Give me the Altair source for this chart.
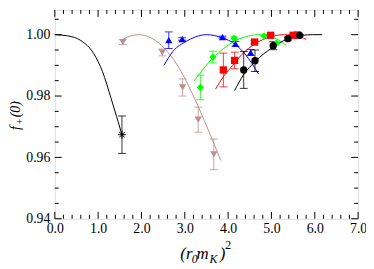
import altair as alt
import pandas as pd

# ---------------- data ----------------
# black asterisk (single point) and its curve
star_x = [1.55]
star_y = [0.9674]
star_e = [0.0061]
star_cx = [0.0, 0.3, 0.6, 0.9, 1.1, 1.3, 1.55]
star_cy = [1.0000, 0.9996, 0.9981, 0.9938, 0.9880, 0.9792, 0.9674]

# rosy-brown down triangles
brown_x = [1.57, 2.48, 2.95, 3.31, 3.67]
brown_y = [0.9976, 0.9942, 0.9828, 0.9723, 0.9610]
brown_e = [0.0008, 0.0011, 0.0028, 0.0041, 0.0050]
brown_cx = [1.55, 1.75, 1.93, 2.2, 2.46, 2.84, 3.14, 3.45, 3.83]
brown_cy = [0.9983, 0.9996, 1.0000, 0.9991, 0.9965, 0.9898, 0.9818, 0.9720, 0.9590]

# blue up triangles
blue_x = [2.63, 2.94, 3.87, 4.17, 4.52]
blue_y = [0.9982, 0.9986, 0.9992, 0.9970, 0.9942]
blue_e = [0.0027, 0.0004, 0.0003, 0.0008, 0.0010]
blue_cx = [2.52, 2.73, 3.03, 3.25, 3.5, 3.86, 4.17, 4.39, 4.70]
blue_cy = [0.9900, 0.9946, 0.9978, 0.9993, 1.0000, 0.9990, 0.9968, 0.9937, 0.9872]

# green diamonds
green_x = [3.36, 3.65, 4.14, 4.83, 5.11]
green_y = [0.9828, 0.9927, 0.9988, 0.9996, 0.9972]
green_e = [0.0040, 0.0019, 0.0005, 0.0003, 0.0005]
green_cx = [3.22, 3.45, 3.65, 3.9, 4.1, 4.4, 4.7, 5.0, 5.34]
green_cy = [0.9850, 0.9892, 0.9925, 0.9955, 0.9975, 0.9993, 1.0000, 0.9993, 0.9966]

# red squares
red_x = [3.89, 4.15, 4.61, 4.98, 5.50, 5.60]
red_y = [0.9885, 0.9916, 0.9976, 0.9998, 0.9998, 0.9999]
red_e = [0.0055, 0.0027, 0.0006, 0.0004, 0.0003, 0.0003]
red_cx = [3.71, 3.9, 4.1, 4.32, 4.62, 5.0, 5.3, 5.55, 5.80]
red_cy = [0.9823, 0.9865, 0.9899, 0.9936, 0.9970, 0.9994, 1.0000, 0.9997, 0.9985]

# black circles
black_x = [4.36, 4.62, 5.04, 5.38, 5.65]
black_y = [0.9885, 0.9915, 0.9964, 0.9987, 0.9998]
black_e = [0.0060, 0.0035, 0.0013, 0.0005, 0.0003]
black_cx = [4.15, 4.36, 4.62, 5.0, 5.38, 5.72, 5.95, 6.17]
black_cy = [0.9818, 0.9870, 0.9912, 0.9956, 0.9987, 0.9998, 1.0000, 1.0000]

series_names = ["star", "brown", "blue", "green", "red", "black"]
series_colors = ["#000000", "#bc8f8f", "#0000ff", "#00ff00", "#ff0000", "#000000"]
filled_names = ["brown", "blue", "green", "red", "black"]
filled_shapes = ["triangle-down", "triangle-up", "diamond", "square", "circle"]

x_major = [0, 1, 2, 3, 4, 5, 6, 7]
x_minor = [i / 5 for i in range(36) if i % 5]
y_major = [0.94, 0.96, 0.98, 1.00]
y_minor = [0.945, 0.95, 0.955, 0.965, 0.97, 0.975, 0.985, 0.99, 0.995, 1.005]

# ---------------- tables ----------------
def pts(name, xs_, ys_, es_):
    return pd.DataFrame({
        "series": name, "x": xs_, "y": ys_,
        "lo": [y - e for y, e in zip(ys_, es_)],
        "hi": [y + e for y, e in zip(ys_, es_)],
    })

def crv(name, xs_, ys_):
    return pd.DataFrame({"series": name, "x": xs_, "y": ys_})

points = pd.concat([
    pts("star", star_x, star_y, star_e),
    pts("brown", brown_x, brown_y, brown_e),
    pts("blue", blue_x, blue_y, blue_e),
    pts("green", green_x, green_y, green_e),
    pts("red", red_x, red_y, red_e),
    pts("black", black_x, black_y, black_e),
], ignore_index=True)

curves = pd.concat([
    crv("star", star_cx, star_cy),
    crv("brown", brown_cx, brown_cy),
    crv("blue", blue_cx, blue_cy),
    crv("green", green_cx, green_cy),
    crv("red", red_cx, red_cy),
    crv("black", black_cx, black_cy),
], ignore_index=True)

W, H = 308, 212
FONT = "Liberation Serif"

xsc = alt.Scale(domain=[0, 7], nice=False, zero=False)
ysc = alt.Scale(domain=[0.94, 1.00806], nice=False, zero=False)
csc = alt.Scale(domain=series_names, range=series_colors)
ssc = alt.Scale(domain=filled_names, range=filled_shapes)

xa = alt.Axis(values=x_major, format=".1f", title=None, grid=False, ticks=False,
              domain=False, labelPadding=3, labelFlush=False, labelOverlap=False,
              labelFont=FONT, labelFontSize=14, labelColor="black")
ya = alt.Axis(values=y_major, format=".2f", title=None, grid=False, ticks=False,
              domain=False, labelPadding=5, labelFlush=False, labelOverlap=False,
              labelFont=FONT, labelFontSize=14, labelColor="black")

X = alt.X("x:Q", scale=xsc, axis=xa)
Y = alt.Y("y:Q", scale=ysc, axis=ya)
C = alt.Color("series:N", scale=csc, legend=None)

lines = alt.Chart(curves).mark_line(strokeWidth=1, interpolate="monotone").encode(
    x=X, y=Y, color=C, detail="series:N")

bars = alt.Chart(points).mark_rule(strokeWidth=1, opacity=0.8).encode(
    x=X, y=alt.Y("lo:Q", scale=ysc, axis=ya), y2="hi:Q", color=C)
cap_lo = alt.Chart(points).mark_tick(orient="horizontal", size=8, thickness=1, opacity=0.8).encode(
    x=X, y=alt.Y("lo:Q", scale=ysc, axis=ya), color=C)
cap_hi = alt.Chart(points).mark_tick(orient="horizontal", size=8, thickness=1, opacity=0.8).encode(
    x=X, y=alt.Y("hi:Q", scale=ysc, axis=ya), color=C)

filled = alt.Chart(points).transform_filter(
    alt.FieldOneOfPredicate(field="series", oneOf=filled_names)
).mark_point(filled=True, opacity=1, size=55).encode(
    x=X, y=Y, color=C, shape=alt.Shape("series:N", scale=ssc, legend=None))

asterisk = "M-1,0L1,0M0,-1L0,1M-0.7,-0.7L0.7,0.7M-0.7,0.7L0.7,-0.7"
star = alt.Chart(points).transform_filter(
    alt.FieldEqualPredicate(field="series", equal="star")
).mark_point(shape=asterisk, filled=False, size=64, strokeWidth=1, color="black", opacity=1).encode(
    x=X, y=Y)

# inward ticks on all four sides
def tx(vals, L):
    df = pd.DataFrame({"v": vals})
    b = alt.Chart(df).mark_rule(color="black", strokeWidth=1).encode(
        x=alt.X("v:Q", scale=xsc, axis=xa), y=alt.value(H), y2=alt.value(H - L))
    t = alt.Chart(df).mark_rule(color="black", strokeWidth=1).encode(
        x=alt.X("v:Q", scale=xsc, axis=xa), y=alt.value(0), y2=alt.value(L))
    return [b, t]

def ty(vals, L):
    df = pd.DataFrame({"v": vals})
    l = alt.Chart(df).mark_rule(color="black", strokeWidth=1).encode(
        y=alt.Y("v:Q", scale=ysc, axis=ya), x=alt.value(0), x2=alt.value(L))
    r = alt.Chart(df).mark_rule(color="black", strokeWidth=1).encode(
        y=alt.Y("v:Q", scale=ysc, axis=ya), x=alt.value(W), x2=alt.value(W - L))
    return [l, r]

ticks = tx(x_major, 7) + tx(x_minor, 4) + ty(y_major, 7) + ty(y_minor, 4)

# axis titles built from pieces (sub/superscripts)
one = pd.DataFrame({"a": [0]})
def piece(text, x, y, size, angle=0, italic=True):
    return alt.Chart(one).mark_text(
        text=text, align="left", baseline="alphabetic", font=FONT,
        fontSize=size, fontStyle="italic" if italic else "normal",
        angle=angle, color="black"
    ).encode(x=alt.value(x), y=alt.value(y))

titles = [
    piece("(r", 127.5, 253, 17),
    piece("0", 139, 257, 12),
    piece("m", 144, 253, 17),
    piece("K", 157, 257, 12),
    piece(")", 167.5, 253, 17),
    piece("2", 173, 243, 12, italic=False),
    piece("f", -35.5, 122, 14, angle=270),
    piece("+", -32.5, 116, 10, angle=270, italic=False),
    piece("(0)", -35.5, 109, 14, angle=270),
]

chart = alt.layer(
    lines, bars, cap_lo, cap_hi, filled, star, *ticks, *titles
).properties(
    width=W, height=H,
    autosize=alt.AutoSizeParams(type="none"),
    padding={"left": 47.5, "top": 0, "right": 8, "bottom": 46},
).configure_view(stroke="black", strokeWidth=1.2).configure(background="white")

chart.save("out.html", embed_options={"renderer": "svg", "actions": False})
